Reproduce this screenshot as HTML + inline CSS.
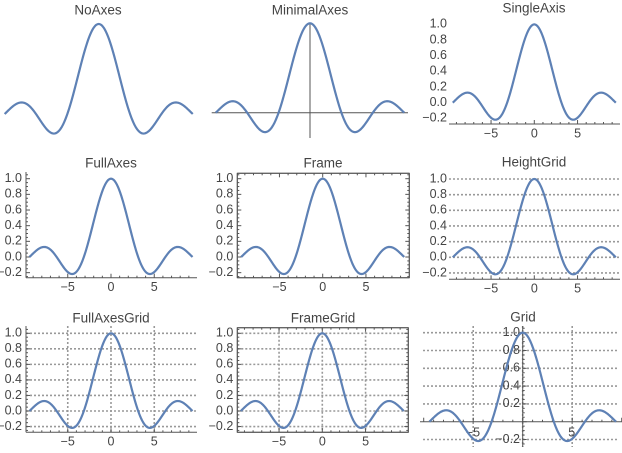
<!DOCTYPE html>
<html><head><meta charset="utf-8">
<style>
html,body{margin:0;padding:0;background:#fff;}
svg{display:block;}
text{font-family:"Liberation Sans",sans-serif;fill:#444;}
</style></head>
<body>
<svg id="s" width="622" height="453" xmlns="http://www.w3.org/2000/svg"></svg>
<script>
const S=document.getElementById('s');let h='';
const C='#5E81B5',A='#555',G='#999';
function curve(x0,sx,y0,sy){let d='';const N=300,L=3*Math.PI;
for(let i=0;i<=N;i++){const x=-L+2*L*i/N;const y=Math.abs(x)<1e-9?1:Math.sin(x)/x;
d+=(i?'L':'M')+(x0+x*sx).toFixed(2)+' '+(y0-y*sy).toFixed(2);}
h+=`<path d="${d}" fill="none" stroke="${C}" stroke-width="2.2"/>`;}
function title(x,y,t){h+=`<text x="${x}" y="${y}" font-size="13.5" text-anchor="middle" dominant-baseline="middle">${t}</text>`;}
function line(x1,y1,x2,y2,c,w,dash){h+=`<line x1="${x1}" y1="${y1}" x2="${x2}" y2="${y2}" stroke="${c}" stroke-width="${w||1}"${dash?` stroke-dasharray="${dash}"`:''}/>`;}
function lbl(x,y,t,anc){h+=`<text x="${x}" y="${y}" font-size="12.5" text-anchor="${anc}" dominant-baseline="middle">${t.replace('-','\u2212')}</text>`;}
function xaxis(x0,sx,yA,xa,xb,labels,dir){line(xa,yA,xb,yA,A,1);
for(let k=-9;k<=9;k++){const px=x0+k*sx;if(px<xa||px>xb)continue;const L=k%5==0?4:2;line(px,yA,px,yA-dir*L,A,1);}
if(labels)[-5,0,5].forEach(k=>lbl(x0+k*sx,yA+10,String(k),'middle'));}
function yaxis(xA,y0,sy,ya,yb,labels,dir){line(xA,ya,xA,yb,A,1);
for(let k=-5;k<=21;k++){const v=k*0.05;const py=y0-v*sy;if(py<ya||py>yb)continue;const L=k%4==0?4:2;line(xA,py,xA+dir*L,py,A,1);}
if(labels)[-0.2,0,0.2,0.4,0.6,0.8,1.0].forEach(v=>lbl(xA-4,y0-v*sy,v.toFixed(1),'end'));}
function hgrid(y0,sy,xa,xb){[-0.2,0,0.2,0.4,0.6,0.8,1.0].forEach(v=>line(xa,y0-v*sy,xb,y0-v*sy,G,1.6,'2,2'));}
function vgrid(x0,sx,ya,yb){[-5,0,5].forEach(k=>line(x0+k*sx,ya,x0+k*sx,yb,G,1.6,'2,2'));}
const SX=8.65;
title(98,11,'NoAxes');curve(98.7,9.98,114,90);
title(310,11,'MinimalAxes');line(211.7,112.7,408,112.7,A,1);line(310,23,310,138,A,1);curve(310,10,112.7,89.4);
title(534,9,'SingleAxis');xaxis(534.3,SX,124,449,620,true,1);
[-0.2,0,0.2,0.4,0.6,0.8,1.0].forEach(v=>lbl(447,102.7-v*78.3,v.toFixed(1),'end'));
curve(534.3,SX,102.7,78.3);
title(111,164,'FullAxes');xaxis(111,SX,277.7,26,197,true,1);yaxis(26,257,78.3,172,277.7,true,1);curve(111,SX,257,78.3);
title(323,164,'Frame');h+=`<rect x="237.3" y="173.3" width="172" height="104.4" fill="none" stroke="${A}" stroke-width="1"/>`;
xaxis(322.7,SX,277.7,237.3,409.3,true,1);xaxis(322.7,SX,173.3,237.3,409.3,false,-1);
yaxis(237.3,257,78.3,173.3,277.7,true,1);yaxis(409.3,257,78.3,173.3,277.7,false,-1);curve(322.7,SX,257,78.3);
title(534,163,'HeightGrid');hgrid(257.3,78.3,449,620);xaxis(534.3,SX,279.3,449,620,true,1);
[-0.2,0,0.2,0.4,0.6,0.8,1.0].forEach(v=>lbl(447,257.3-v*78.3,v.toFixed(1),'end'));curve(534.3,SX,257.3,78.3);
title(111,319,'FullAxesGrid');hgrid(411,77.7,26,197);vgrid(111,SX,326,432.3);
xaxis(111,SX,432.3,26,197,true,1);yaxis(26,411,77.7,326,432.3,true,1);curve(111,SX,411,77.7);
title(323,319,'FrameGrid');hgrid(411,77.7,237.3,408.3);vgrid(322.3,SX,327.7,432.3);
h+=`<rect x="237.3" y="327.7" width="171" height="104.6" fill="none" stroke="${A}" stroke-width="1"/>`;
xaxis(322.3,SX,432.3,237.3,408.3,true,1);xaxis(322.3,SX,327.7,237.3,408.3,false,-1);
yaxis(237.3,411,77.7,327.7,432.3,true,1);yaxis(408.3,411,77.7,327.7,432.3,false,-1);curve(322.3,SX,411,77.7);
title(523,318,'Grid');
[-0.2,0.2,0.4,0.6,0.8,1.0].forEach(v=>line(423,421.7-v*89,618,421.7-v*89,G,1.6,'2,2'));
vgrid(522.7,9.9,326,447);
line(420,421.7,622,421.7,A,1);line(522.7,326,522.7,447,A,1);
for(let k=-10;k<=10;k++){const px=522.7+k*9.9;if(px<420||px>622)continue;line(px,421.7,px,421.7-(k%5==0?4:2),A,1);}
for(let k=-5;k<=21;k++){const py=421.7-k*0.05*89;line(522.7,py,522.7+(k%4==0?4:2),py,A,1);}
lbl(473,433,'-5','middle');lbl(571.7,433,'5','middle');
[-0.2,0.2,0.4,0.6,0.8,1.0].forEach(v=>lbl(520,421.7-v*89,v.toFixed(1),'end'));
curve(522.7,9.9,421.7,89);
S.innerHTML=h;
</script>
</body></html>
